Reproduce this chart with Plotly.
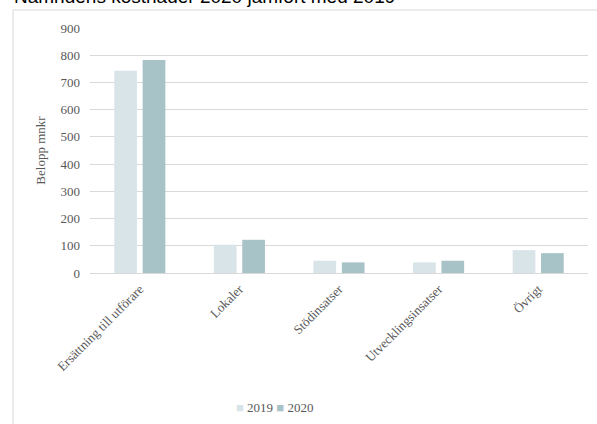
import plotly.graph_objects as go

# Kategorier och belopp (mnkr)
categories = ['Ersättning till utförare', 'Lokaler', 'Stödinsatser',
              'Utvecklingsinsatser', 'Övrigt']
values_2019 = [743, 104, 45, 39, 84]
values_2020 = [782, 122, 39, 45, 73]
y_ticks = [0, 100, 200, 300, 400, 500, 600, 700, 800, 900]

SERIF = 'Liberation Serif, DejaVu Serif, serif'
GREY = '#595959'
COL_2019 = '#d9e4e8'
COL_2020 = '#a8c3c8'

fig = go.Figure()
fig.add_trace(go.Bar(x=categories, y=values_2019, name='2019',
                     marker=dict(color=COL_2019, line=dict(width=0))))
fig.add_trace(go.Bar(x=categories, y=values_2020, name='2020',
                     marker=dict(color=COL_2020, line=dict(width=0))))

fig.update_layout(
    width=597, height=424,
    paper_bgcolor='white', plot_bgcolor='white',
    margin=dict(l=90, r=9, t=28, b=151, autoexpand=False),
    barmode='group', bargap=0.43, bargroupgap=0.2,
    font=dict(family=SERIF, color=GREY, size=13),
    showlegend=False,
    xaxis=dict(tickangle=-45, showgrid=False, showline=False, ticks='',
               automargin=False, ticklabelstandoff=5,
               tickfont=dict(size=13, family=SERIF, color=GREY)),
    yaxis=dict(range=[0, 900], tickvals=y_ticks, showgrid=True, gridcolor='#d9d9d9',
               zeroline=True, zerolinecolor='#d9d9d9', zerolinewidth=1,
               showline=False, ticks='', ticklabelstandoff=9, automargin=False,
               tickfont=dict(size=13, family=SERIF, color=GREY),
               title=dict(text='Belopp mnkr', standoff=11,
                          font=dict(size=13, family=SERIF, color=GREY))),
)

# Ram runt diagramytan (delvis utanför bilden)
fig.add_shape(type='rect', xref='paper', yref='paper',
              x0=-0.1546, x1=1.2, y0=-0.7, y1=1.0735,
              line=dict(color='#d9d9d9', width=1), fillcolor='rgba(0,0,0,0)')

# Förklaring (kompakt, som i originalet)
legend_text = (f'<span style="color:{COL_2019}">■</span> 2019 '
               f'<span style="color:{COL_2020}">■</span> 2020')
fig.add_annotation(text=legend_text, xref='paper', yref='paper',
                   x=0.37, y=-0.551, xanchor='center', yanchor='middle',
                   showarrow=False, font=dict(size=13, family=SERIF, color=GREY))

# Titeln är avskuren i överkanten
fig.add_annotation(text='Nämndens kostnader 2020 jämfört med 2019',
                   xref='paper', yref='paper', x=-0.156, y=1.0775,
                   xanchor='left', yanchor='bottom', showarrow=False,
                   font=dict(family='Liberation Sans, Arial, sans-serif', size=19, color='#000000'))

# Ta bort sidans standardmarginal så att figuren börjar i hörnet
fig.write_html('out.html', config={'displayModeBar': False},
               post_script="document.body.style.margin='0';")
